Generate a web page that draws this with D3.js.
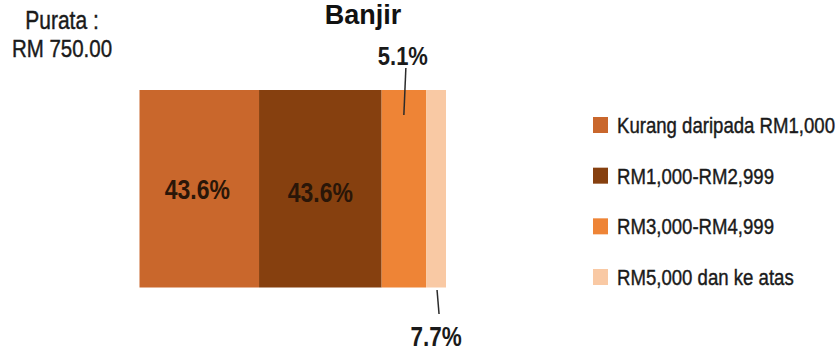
<!DOCTYPE html>
<html><head><meta charset="utf-8">
<script src="https://cdn.jsdelivr.net/npm/d3@7"></script>
<style>
html,body{margin:0;padding:0;background:#fff;}
svg{display:block;font-family:"Liberation Sans",Arial,sans-serif;}
</style></head>
<body>
<svg id="chart" width="839" height="351"></svg>
<script>
// Data
const categories = ["Kurang daripada RM1,000", "RM1,000-RM2,999", "RM3,000-RM4,999", "RM5,000 dan ke atas"];
const segmentShares = [39.0, 40.0, 14.5, 6.5];          // bar lengths as drawn in the picture
const shareLabels = ["43.6%", "43.6%", "5.1%", "7.7%"];  // labels printed on the chart
const colors = ["#C9672C", "#86400F", "#EE8436", "#F9C9A4"];
const title = "Banjir";
const averageLines = ["Purata :", "RM 750.00"];

const svg = d3.select("#chart");
const SY = 1.2; // vertical text stretch seen in the picture

function txt(g, x, y, s, size, weight, anchor, fill, sy) {
  const f = fill || "#1a1a1a";
  const t = g.append("text")
    .attr("transform", `translate(${x},${y}) scale(1,${sy || SY})`)
    .attr("text-anchor", anchor || "middle")
    .attr("font-size", size)
    .attr("font-weight", weight || "normal")
    .attr("fill", f)
    .text(s);
  if (weight !== "bold") t.attr("stroke", f).attr("stroke-width", 0.35);
  return t;
}

// Scales
const x = d3.scaleLinear().domain([0, d3.sum(segmentShares)]).range([139.5, 446]);
const y = d3.scaleBand().domain(["Banjir"]).range([90, 287.5]).padding(0);

const stacked = [];
let acc = 0;
segmentShares.forEach((v, i) => { stacked.push({i, x0: acc, x1: acc + v}); acc += v; });

svg.append("g").selectAll("rect").data(stacked).join("rect")
  .attr("x", d => x(d.x0))
  .attr("width", d => x(d.x1) - x(d.x0))
  .attr("y", y("Banjir"))
  .attr("height", y.bandwidth())
  .attr("fill", d => colors[d.i]);

// Title
txt(svg, 363, 24, title, 27, "bold", "middle", "#111", 1.0);

// Average
txt(svg, 62, 29, averageLines[0], 21);
txt(svg, 62, 57, averageLines[1], 20.5);

// Inside labels
const lab = svg.append("g");
txt(lab, (x(stacked[0].x0) + x(stacked[0].x1)) / 2 - 2, 199, shareLabels[0], 23, "bold", "middle", "#2a1608");
txt(lab, (x(stacked[1].x0) + x(stacked[1].x1)) / 2, 202, shareLabels[1], 23, "bold", "middle", "#2a1608");

// Callouts
const c3 = (x(stacked[2].x0) + x(stacked[2].x1)) / 2;
const c4 = (x(stacked[3].x0) + x(stacked[3].x1)) / 2;
svg.append("line").attr("x1", c3 + 2).attr("y1", 68).attr("x2", c3).attr("y2", 115)
  .attr("stroke", "#2b2b2b").attr("stroke-width", 1.5);
txt(svg, c3 - 1, 65, shareLabels[2], 22, "bold");
svg.append("line").attr("x1", c4 + 1).attr("y1", 290).attr("x2", c4 + 3).attr("y2", 314)
  .attr("stroke", "#2b2b2b").attr("stroke-width", 1.5);
txt(svg, c4 + 0, 346, shareLabels[3], 22.5, "bold");

// Legend
const legY = d3.scalePoint().domain(categories).range([125, 277]);
const leg = svg.append("g").selectAll("g").data(categories).join("g");
leg.append("rect")
  .attr("x", 593).attr("y", d => legY(d) - 8)
  .attr("width", 15).attr("height", 16)
  .attr("fill", (d, i) => colors[i]);
leg.each(function(d) {
  txt(d3.select(this), 617, legY(d) + 8, d, 18.6, "normal", "start", "#1a1a1a");
});
</script>
</body></html>
